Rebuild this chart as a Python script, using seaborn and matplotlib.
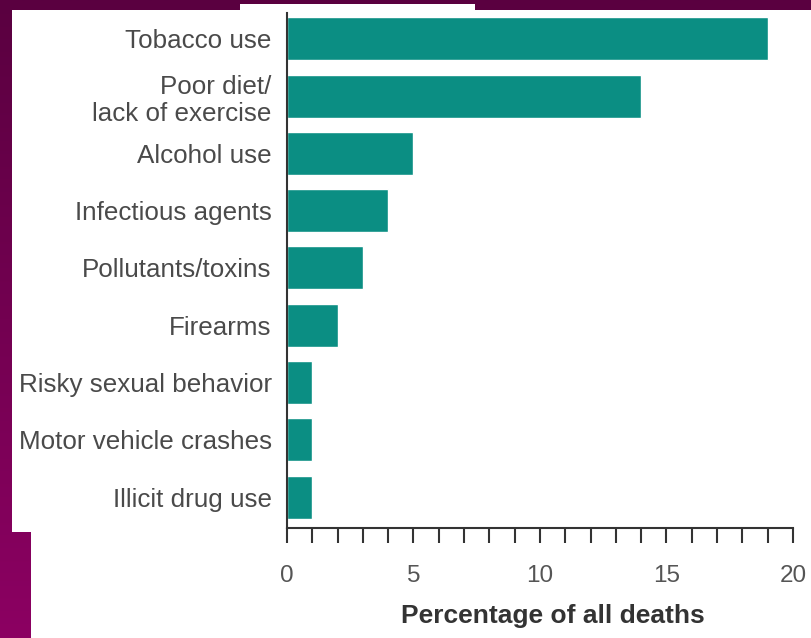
import numpy as np
import pandas as pd
import matplotlib
matplotlib.use("Agg")
import matplotlib.pyplot as plt
from matplotlib.patches import Rectangle
from matplotlib.colors import LinearSegmentedColormap
import seaborn as sns

# ---- data ----
categories = [
    "Tobacco use",
    "Poor diet/\nlack of exercise",
    "Alcohol use",
    "Infectious agents",
    "Pollutants/toxins",
    "Firearms",
    "Risky sexual behavior",
    "Motor vehicle crashes",
    "Illicit drug use",
]
values = [19, 14, 5, 4, 3, 2, 1, 1, 1]
tick_values = list(range(0, 21))
tick_labels = [str(v) if v % 5 == 0 else "" for v in tick_values]
xlabel = "Percentage of all deaths"

df = pd.DataFrame({"cause": categories, "pct": values})

sns.set_theme(style="white")
plt.rcParams["font.family"] = ["Liberation Sans", "DejaVu Sans"]

W, H = 812, 638
fig = plt.figure(figsize=(W / 100, H / 100), dpi=100)

# ---- slide background (magenta gradient + white panel) ----
bg = fig.add_axes([0, 0, 1, 1], zorder=0)
grad = np.linspace(0, 1, 256).reshape(-1, 1)
cmap = LinearSegmentedColormap.from_list("mag", ["#5a0040", "#8c0062"])
bg.imshow(grad, extent=[0, W, H, 0], aspect="auto", cmap=cmap)
bg.add_patch(Rectangle((12, 10), W - 12, 532 - 10, color="white", lw=0))
bg.add_patch(Rectangle((31, 532), W - 31, H - 532, color="white", lw=0))
bg.add_patch(Rectangle((240, 4), 235, 8, color="white", lw=0))
bg.set_xlim(0, W)
bg.set_ylim(H, 0)
bg.axis("off")

# ---- chart ----
left, right, bottom, top = 287, 793, 528, 13
ax = fig.add_axes([left / W, 1 - bottom / H, (right - left) / W, (bottom - top) / H], zorder=1)
ax.patch.set_alpha(0)

sns.barplot(data=df, x="pct", y="cause", orient="h", color="#0b8e83",
            saturation=1, width=0.75, ax=ax)

ax.set_xlim(0, 20)
ax.set_ylim(8.54, -0.45)
ax.set_xticks(tick_values)
ax.set_xticklabels(tick_labels)
ax.set_ylabel("")
ax.set_xlabel(xlabel, fontsize=19, fontweight="bold", color="#333333", va="top")
ax.xaxis.set_label_coords(0.526, -0.148)

for s in ["top", "right"]:
    ax.spines[s].set_visible(False)
for s in ["left", "bottom"]:
    ax.spines[s].set_color("#333333")
    ax.spines[s].set_linewidth(1.5)

ax.tick_params(axis="x", which="major", direction="out", length=10.8, width=1.5,
               color="#333333", labelsize=17.5, labelcolor="#555555", pad=16, bottom=True)
ax.tick_params(axis="y", length=0, labelsize=18.7, labelcolor="#4a4a4a", pad=11)
for t in ax.get_yticklabels():
    t.set_multialignment("right")
    t.set_linespacing(1.2)

fig.savefig("out.png", dpi=100)
